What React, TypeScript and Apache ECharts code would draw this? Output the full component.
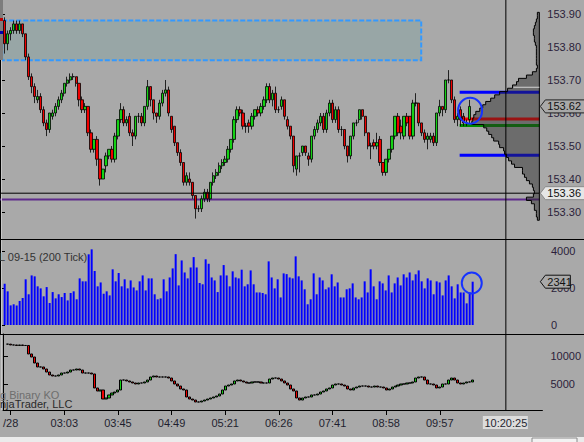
import React, { useEffect, useRef } from "react";
import * as echarts from "echarts";

// ---------- price bars (200 tick) ----------
const opens = [
  153.88, 153.81, 153.84, 153.85, 153.87, 153.85, 153.87, 153.84, 153.77, 153.71,
  153.68, 153.64, 153.65, 153.61, 153.57, 153.55, 153.59, 153.60, 153.62, 153.64,
  153.66, 153.69, 153.70, 153.71, 153.71, 153.69, 153.64, 153.61, 153.62, 153.54,
  153.49, 153.52, 153.46, 153.40, 153.44, 153.47, 153.49, 153.46, 153.53, 153.58,
  153.61, 153.57, 153.59, 153.54, 153.53, 153.59, 153.59, 153.57, 153.62, 153.68,
  153.64, 153.60, 153.59, 153.63, 153.66, 153.67, 153.59, 153.56, 153.51, 153.48,
  153.45, 153.39, 153.40, 153.39, 153.35, 153.31, 153.31, 153.34, 153.36, 153.34,
  153.39, 153.41, 153.42, 153.44, 153.45, 153.46, 153.49, 153.52, 153.58, 153.61,
  153.60, 153.56, 153.57, 153.56, 153.59, 153.61, 153.60, 153.62, 153.64, 153.68,
  153.64, 153.66, 153.61, 153.62, 153.64, 153.58, 153.56, 153.53, 153.43, 153.47,
  153.48, 153.50, 153.47, 153.46, 153.53, 153.55, 153.57, 153.59, 153.55, 153.60,
  153.63, 153.58, 153.61, 153.55, 153.55, 153.50, 153.47, 153.53, 153.57, 153.58,
  153.61, 153.59, 153.54, 153.50, 153.51, 153.50, 153.52, 153.45, 153.42, 153.46,
  153.49, 153.53, 153.59, 153.56, 153.53, 153.59, 153.59, 153.53, 153.63, 153.63,
  153.57, 153.54, 153.52, 153.52, 153.53, 153.51, 153.60, 153.62, 153.61, 153.70,
  153.70, 153.64, 153.58, 153.61, 153.59, 153.57, 153.58,
];
const closes = [
  153.81, 153.84, 153.85, 153.87, 153.85, 153.87, 153.84, 153.77, 153.71, 153.68,
  153.65, 153.65, 153.61, 153.57, 153.55, 153.60, 153.60, 153.62, 153.64, 153.66,
  153.69, 153.70, 153.71, 153.71, 153.69, 153.64, 153.61, 153.62, 153.54, 153.49,
  153.52, 153.46, 153.40, 153.43, 153.47, 153.49, 153.46, 153.53, 153.58, 153.61,
  153.57, 153.58, 153.54, 153.53, 153.59, 153.59, 153.57, 153.62, 153.68, 153.64,
  153.60, 153.59, 153.63, 153.66, 153.67, 153.60, 153.55, 153.51, 153.48, 153.45,
  153.39, 153.41, 153.39, 153.35, 153.31, 153.31, 153.34, 153.36, 153.34, 153.39,
  153.41, 153.42, 153.44, 153.45, 153.46, 153.49, 153.52, 153.58, 153.61, 153.60,
  153.56, 153.56, 153.56, 153.59, 153.61, 153.60, 153.62, 153.64, 153.68, 153.64,
  153.66, 153.61, 153.61, 153.64, 153.59, 153.56, 153.53, 153.44, 153.47, 153.47,
  153.50, 153.48, 153.46, 153.53, 153.55, 153.57, 153.59, 153.55, 153.60, 153.63,
  153.58, 153.61, 153.55, 153.55, 153.50, 153.47, 153.53, 153.57, 153.57, 153.61,
  153.59, 153.54, 153.50, 153.50, 153.50, 153.51, 153.45, 153.42, 153.46, 153.49,
  153.53, 153.59, 153.54, 153.54, 153.59, 153.57, 153.53, 153.63, 153.63, 153.57,
  153.54, 153.52, 153.53, 153.53, 153.51, 153.60, 153.62, 153.61, 153.70, 153.70,
  153.64, 153.58, 153.59, 153.58, 153.57, 153.57, 153.62,
];
const lows = [
  153.78, 153.79, 153.82, 153.84, 153.84, 153.84, 153.83, 153.76, 153.70, 153.66,
  153.63, 153.63, 153.60, 153.56, 153.53, 153.54, 153.58, 153.59, 153.61, 153.63,
  153.65, 153.68, 153.69, 153.70, 153.68, 153.62, 153.60, 153.60, 153.53, 153.48,
  153.48, 153.44, 153.38, 153.40, 153.42, 153.46, 153.45, 153.45, 153.52, 153.57,
  153.56, 153.56, 153.53, 153.50, 153.52, 153.57, 153.56, 153.56, 153.61, 153.62,
  153.58, 153.57, 153.58, 153.62, 153.65, 153.59, 153.54, 153.50, 153.47, 153.44,
  153.38, 153.38, 153.38, 153.34, 153.28, 153.30, 153.30, 153.33, 153.33, 153.33,
  153.38, 153.40, 153.41, 153.43, 153.44, 153.45, 153.48, 153.51, 153.57, 153.59,
  153.55, 153.54, 153.54, 153.55, 153.58, 153.59, 153.59, 153.61, 153.63, 153.63,
  153.62, 153.60, 153.60, 153.61, 153.58, 153.55, 153.52, 153.42, 153.41, 153.42,
  153.47, 153.47, 153.44, 153.45, 153.52, 153.54, 153.56, 153.54, 153.54, 153.59,
  153.57, 153.57, 153.54, 153.53, 153.49, 153.45, 153.46, 153.52, 153.56, 153.57,
  153.58, 153.53, 153.49, 153.46, 153.49, 153.49, 153.44, 153.41, 153.41, 153.45,
  153.48, 153.52, 153.53, 153.52, 153.52, 153.56, 153.52, 153.52, 153.62, 153.56,
  153.53, 153.51, 153.49, 153.51, 153.50, 153.50, 153.59, 153.59, 153.60, 153.69,
  153.63, 153.57, 153.56, 153.56, 153.56, 153.56, 153.57,
];
const highs = [
  153.89, 153.85, 153.86, 153.88, 153.88, 153.88, 153.87, 153.84, 153.78, 153.72,
  153.69, 153.67, 153.66, 153.62, 153.58, 153.60, 153.61, 153.63, 153.65, 153.67,
  153.69, 153.71, 153.72, 153.72, 153.71, 153.69, 153.65, 153.63, 153.62, 153.55,
  153.52, 153.53, 153.46, 153.43, 153.48, 153.49, 153.50, 153.54, 153.58, 153.63,
  153.62, 153.59, 153.60, 153.55, 153.59, 153.60, 153.60, 153.62, 153.70, 153.68,
  153.64, 153.60, 153.64, 153.67, 153.70, 153.68, 153.59, 153.56, 153.51, 153.49,
  153.45, 153.42, 153.42, 153.39, 153.35, 153.32, 153.35, 153.37, 153.37, 153.39,
  153.42, 153.43, 153.45, 153.46, 153.47, 153.50, 153.52, 153.59, 153.62, 153.62,
  153.61, 153.57, 153.58, 153.60, 153.61, 153.62, 153.63, 153.65, 153.69, 153.69,
  153.67, 153.68, 153.62, 153.65, 153.64, 153.59, 153.56, 153.53, 153.47, 153.48,
  153.50, 153.50, 153.48, 153.53, 153.56, 153.58, 153.60, 153.60, 153.61, 153.64,
  153.64, 153.62, 153.62, 153.56, 153.55, 153.50, 153.53, 153.57, 153.58, 153.61,
  153.61, 153.59, 153.54, 153.51, 153.52, 153.54, 153.53, 153.45, 153.46, 153.49,
  153.53, 153.59, 153.60, 153.58, 153.59, 153.60, 153.59, 153.64, 153.66, 153.63,
  153.57, 153.55, 153.54, 153.54, 153.54, 153.60, 153.64, 153.62, 153.70, 153.73,
  153.70, 153.65, 153.60, 153.62, 153.60, 153.58, 153.64,
];

// ---------- volume per bar ----------
const volumes = [
  2230, 1820, 1060, 1120, 1060, 1300, 1460, 2470, 1660, 2680,
  2630, 2090, 1980, 1550, 2050, 1190, 1780, 1440, 1660, 1510,
  1730, 1330, 1730, 1820, 1390, 2520, 2360, 2360, 3820, 4090,
  2920, 2090, 2300, 1690, 1820, 1600, 3010, 2360, 2810, 2090,
  2470, 1980, 2410, 2030, 1870, 2360, 2680, 1870, 2520, 2520,
  1660, 1390, 1440, 2470, 1820, 2570, 3060, 3830, 2140, 3490,
  2840, 2520, 3110, 3670, 3110, 2270, 2200, 3550, 3310, 2570,
  2410, 1780, 2680, 3240, 2680, 2090, 2900, 2570, 2520, 2990,
  2090, 2200, 2950, 2200, 1760, 1760, 1730, 1660, 3440, 2570,
  1980, 2470, 1490, 2790, 2750, 2570, 2520, 3710, 2630, 2410,
  1930, 1120, 1390, 2790, 1660, 2570, 2410, 1930, 2030, 2740,
  2090, 2300, 1490, 1490, 1930, 1980, 2250, 1490, 1390, 1490,
  2360, 1760, 3010, 2090, 1390, 2360, 2250, 1870, 2680, 1760,
  2250, 2570, 2140, 2740, 2570, 2840, 2410, 2740, 2950, 2360,
  1980, 2520, 2410, 1660, 2360, 2300, 1600, 2410, 2680, 2090,
  1440, 2200, 1760, 1760, 1170, 1760, 2341,
];

// ---------- lower indicator (closes per bar) ----------
const indicatorCloses = [
  12120, 11970, 11970, 11880, 11970, 11880, 11880, 10360, 9820, 8750,
  8040, 8040, 7680, 7140, 6610, 6430, 6430, 6610, 6960, 6960,
  7140, 7500, 7500, 7680, 7500, 6960, 6960, 6960, 6790, 4290,
  3750, 3930, 2320, 2500, 3040, 3390, 3570, 3930, 5710, 5710,
  5540, 5360, 5180, 5000, 5180, 5180, 5360, 5710, 6250, 6430,
  6250, 6250, 6250, 6250, 6070, 5540, 5000, 4640, 4110, 3930,
  2680, 2320, 2140, 1790, 1790, 1960, 2140, 2320, 2500, 2680,
  2860, 3210, 3930, 4640, 4820, 5000, 5540, 5710, 5540, 5360,
  5180, 5180, 5360, 5360, 5360, 5180, 5180, 5180, 5890, 6070,
  6070, 5890, 5540, 5180, 4820, 4110, 3750, 2500, 2140, 2500,
  2680, 2680, 3040, 3040, 3210, 3570, 3750, 4110, 4290, 4820,
  5000, 5000, 4820, 4640, 4110, 3930, 4290, 4460, 4640, 4640,
  4640, 4460, 4460, 4640, 4460, 4460, 4290, 3930, 4110, 4460,
  4640, 4820, 5000, 5000, 5180, 5180, 5360, 6070, 6250, 6250,
  5710, 5000, 5000, 4820, 4290, 4460, 5000, 5000, 5710, 6070,
  5710, 5180, 5000, 5180, 5360, 5360, 5710,
];

// ---------- volume profile ----------
const profilePrices = [
  153.90, 153.89, 153.88, 153.87, 153.86, 153.85, 153.84, 153.83, 153.82, 153.81,
  153.80, 153.79, 153.78, 153.77, 153.76, 153.75, 153.74, 153.73, 153.72, 153.71,
  153.70, 153.69, 153.68, 153.67, 153.66, 153.65, 153.64, 153.63, 153.62, 153.61,
  153.60, 153.59, 153.58, 153.57, 153.56, 153.55, 153.54, 153.53, 153.52, 153.51,
  153.50, 153.49, 153.48, 153.47, 153.46, 153.45, 153.44, 153.43, 153.42, 153.41,
  153.40, 153.39, 153.38, 153.37, 153.36, 153.35, 153.34, 153.33, 153.32, 153.31,
  153.30, 153.29, 153.28,
];
const profileVolumes = [
  2, 2, 3, 4, 5, 6, 6, 5, 5, 4,
  3, 3, 3, 3, 3, 3, 2, 3, 7, 13,
  21, 23, 27, 32, 40, 45, 49, 54, 57, 60,
  64, 66, 67, 68, 56, 53, 51, 48, 46, 41,
  40, 36, 35, 33, 31, 28, 25, 17, 17, 15,
  13, 10, 7, 6, 5, 6, 13, 8, 5, 5,
  3, 3, 2,
];

// ---------- axes ----------
const priceTicks = [153.3, 153.4, 153.5, 153.6, 153.7, 153.8, 153.9];
const volumeTicks = [0, 2000, 4000];
const indicatorTicks = [5000, 10000];
const timeLabels = ["/28", "03:03", "03:45", "04:49", "05:21", "06:26", "07:41", "08:58", "09:57"];
const timeLabelBars = [1, 19, 37, 55, 73, 91, 109, 127, 145];

// ---------- levels / annotations ----------
const zoneTop = 153.88;
const zoneBottom = 153.76;
const zoneStartBar = -0.8;
const zoneEndBar = 139.8;
const profileStartBar = 152.7;
const vaHigh = 153.663;
const vaLow = 153.472;
const pocPrice = 153.582;
const vwapPrice = 153.562;
const purplePrice = 153.338;
const lightLinePrice = 153.678;
const crossBar = 168.2;
const crossPrice = 153.357;
const crossTime = "10:20:25";
const lastPrice = 153.62;
const lastVolume = 2341;
const priceCircle = { bar: 156.2, price: 153.607 };
const volumeCircle = { bar: 155.7, volume: 2270 };

const FONT = '"Liberation Sans", Arial, sans-serif';
const BG = "#A9A9A9";
const UP = "#14D214";
const DOWN = "#F00000";
const AXIS_TEXT = "#2B1E3A";

const X_MAX = 181;
const barX = (k: number) => k + 1.556;

const PRICE_MIN = 153.2182;
const PRICE_MAX = 153.9424;
const VOL_MIN = -486.5;
const VOL_MAX = 4648.6;
const IND_MIN = 357.1;
const IND_MAX = 13928.6;
const PROFILE_MAX = 543;

export default function App() {
  const ref = useRef<HTMLDivElement>(null);

  useEffect(() => {
    const el = ref.current!;
    const chart = echarts.init(el, null, { renderer: "svg" });

    const tickVals = timeLabelBars.map(barX);
    const yAxisBase = (gridIndex: number, min: number, max: number, ticks: number[], fmt: (v: number) => string) => ({
      gridIndex,
      type: "value",
      position: "right",
      min,
      max,
      axisLine: { show: true, lineStyle: { color: "#000", width: 1 } },
      axisTick: { show: true, customValues: ticks, length: 5, lineStyle: { color: "#000" } },
      axisLabel: { customValues: ticks, formatter: fmt, color: AXIS_TEXT, fontSize: 11, fontFamily: FONT, margin: 8 },
      splitLine: { show: false },
    });

    const indOHLC = indicatorCloses.map((c, i) => {
      const o = i === 0 ? c : indicatorCloses[i - 1];
      return [barX(i), o, c, Math.min(o, c), Math.max(o, c)];
    });

    const candleStyle = {
      color: UP,
      color0: DOWN,
      borderColor: "#000",
      borderColor0: "#000",
      borderColorDoji: "#000",
      borderWidth: 0.8,
    };

    const option: any = {
      animation: false,
      backgroundColor: BG,
      textStyle: { fontFamily: FONT },
      grid: [
        { left: 0, top: 0, width: 543, height: 239 },
        { left: 0, top: 239, width: 543, height: 95 },
        { left: 0, top: 334, width: 543, height: 76 },
      ],
      xAxis: [
        { gridIndex: 0, type: "value", min: 0, max: X_MAX, show: false },
        { gridIndex: 1, type: "value", min: 0, max: X_MAX, show: false },
        {
          gridIndex: 2,
          type: "value",
          min: 0,
          max: X_MAX,
          axisLine: { show: true, onZero: false, lineStyle: { color: "#000", width: 1 } },
          axisTick: { show: true, customValues: tickVals, length: 5, lineStyle: { color: "#000" } },
          axisLabel: {
            customValues: tickVals,
            formatter: (v: number) => {
              const i = tickVals.findIndex((t) => Math.abs(t - v) < 1e-6);
              return i >= 0 ? timeLabels[i] : "";
            },
            color: "#1f1f2f",
            fontSize: 11,
            fontFamily: FONT,
            margin: 7,
          },
          splitLine: { show: false },
        },
        { gridIndex: 0, type: "value", min: 0, max: PROFILE_MAX, inverse: true, show: false },
      ],
      yAxis: [
        yAxisBase(0, PRICE_MIN, PRICE_MAX, priceTicks, (v) => v.toFixed(2)),
        yAxisBase(1, VOL_MIN, VOL_MAX, volumeTicks, (v) => String(Math.round(v))),
        yAxisBase(2, IND_MIN, IND_MAX, indicatorTicks, (v) => String(Math.round(v))),
      ],
      series: [
        {
          type: "custom",
          xAxisIndex: 0,
          yAxisIndex: 0,
          z: 1,
          silent: true,
          data: [[0, PRICE_MIN]],
          renderItem: (_params: any, api: any) => {
            const p0 = api.coord([barX(zoneStartBar), zoneTop]);
            const p1 = api.coord([barX(zoneEndBar), zoneBottom]);
            const left = api.coord([0, PRICE_MAX])[0];
            const right = api.coord([X_MAX, PRICE_MAX])[0];
            const vaX = api.coord([barX(profileStartBar), PRICE_MAX])[0];
            const hline = (price: number, x0: number, color: string, w: number) => {
              const y = api.coord([0, price])[1];
              return { type: "line", shape: { x1: x0, y1: y, x2: right, y2: y }, style: { stroke: color, lineWidth: w } };
            };
            return {
              type: "group",
              children: [
                {
                  type: "rect",
                  shape: { x: p0[0], y: p0[1], width: p1[0] - p0[0], height: p1[1] - p0[1] },
                  style: { fill: "#98A6A6", stroke: "#3399FF", lineWidth: 2, lineDash: [5, 2] },
                },
                hline(purplePrice, left, "#5E2B8C", 2),
                hline(vaHigh, vaX, "#0000FF", 3),
                hline(vaLow, vaX, "#0000FF", 3),
                hline(pocPrice, vaX, "#FF0000", 3),
                hline(vwapPrice, vaX, "#008C00", 3),
              ],
            };
          },
        },
        {
          type: "custom",
          xAxisIndex: 3,
          yAxisIndex: 0,
          z: 2,
          silent: true,
          data: profileVolumes.map((v, i) => [v, profilePrices[i]]),
          renderItem: (params: any, api: any) => {
            if (params.dataIndex !== 0) return null;
            const half = 0.005;
            const pts: number[][] = [];
            pts.push(api.coord([0, profilePrices[0] + half]));
            profilePrices.forEach((p, i) => {
              pts.push(api.coord([profileVolumes[i], p + half]));
              pts.push(api.coord([profileVolumes[i], p - half]));
            });
            pts.push(api.coord([0, profilePrices[profilePrices.length - 1] - half]));
            return {
              type: "polygon",
              shape: { points: pts },
              style: { fill: "rgba(40,40,40,0.47)", stroke: "#000", lineWidth: 1 },
            };
          },
        },
        {
          type: "candlestick",
          xAxisIndex: 0,
          yAxisIndex: 0,
          z: 3,
          barWidth: 2.8,
          encode: { x: 0, y: [1, 2, 3, 4] },
          data: opens.map((o, i) => [barX(i), o, closes[i], lows[i], highs[i]]),
          itemStyle: candleStyle,
        },
        {
          type: "bar",
          xAxisIndex: 1,
          yAxisIndex: 1,
          z: 3,
          barWidth: 2,
          data: volumes.map((v, i) => [barX(i), v]),
          itemStyle: { color: "#0000FF" },
        },
        {
          type: "candlestick",
          xAxisIndex: 2,
          yAxisIndex: 2,
          z: 3,
          barWidth: 2.6,
          encode: { x: 0, y: [1, 2, 3, 4] },
          data: indOHLC,
          itemStyle: { ...candleStyle, borderWidth: 1 },
        },
      ],
    };

    chart.setOption(option);

    const P = (xi: number, yi: number, pt: number[]) =>
      chart.convertToPixel({ xAxisIndex: xi, yAxisIndex: yi } as any, pt) as unknown as number[];
    const right = P(0, 0, [X_MAX, PRICE_MAX])[0];
    const [crossX, crossY] = P(0, 0, [barX(crossBar), crossPrice]);
    const bottom = P(2, 2, [0, IND_MIN])[1];
    const lastY = P(0, 0, [0, lastPrice])[1];
    const volY = P(1, 1, [0, lastVolume])[1];
    const c1 = P(0, 0, [barX(priceCircle.bar), priceCircle.price]);
    const c2 = P(1, 1, [barX(volumeCircle.bar), volumeCircle.volume]);
    const lightY = P(0, 0, [0, lightLinePrice])[1];

    const txt = (x: number, y: number, text: string, fill: string, z: number, align = "left") => ({
      type: "text",
      z,
      x,
      y,
      silent: true,
      style: {
        text,
        fill,
        fontSize: 11,
        fontFamily: FONT,
        align,
        verticalAlign: "middle",
        textAlign: align,
        textVerticalAlign: "middle",
      },
    });
    const arrowBox = (y: number, label: string, fill: string, stroke: string, w: number) => [
      {
        type: "polygon",
        z: 110,
        silent: true,
        shape: {
          points: [
            [right + 1, y],
            [right + 6, y - 6.5],
            [right + 6 + w, y - 6.5],
            [right + 6 + w, y + 6.5],
            [right + 6, y + 6.5],
          ],
        },
        style: { fill, stroke, lineWidth: 1 },
      },
      txt(right + 8, y, label, "#111", 111),
    ];

    const g: any[] = [
      { type: "rect", z: 1, silent: true, shape: { x: 0, y: 0, width: 3, height: 60 }, style: { fill: "#7d7d7d" } },
      { type: "rect", z: 1, silent: true, shape: { x: 0, y: 18, width: 3, height: 3 }, style: { fill: "#c00000" } },
      { type: "rect", z: 1, silent: true, shape: { x: 0, y: 31, width: 3, height: 3 }, style: { fill: "#0000b0" } },
      { type: "line", z: 1, silent: true, shape: { x1: 1.5, y1: 60, x2: 1.5, y2: bottom }, style: { stroke: "#c8c8c8", lineWidth: 1 } },
      txt(-1, 257, "L 09-15 (200 Tick)", "#333333", 1),
      txt(0, 395, "g Binary KO", "#6e6e6e", 1),
      txt(0, 404, "njaTrader, LLC", "#2a2a2a", 1),
      { type: "line", z: 100, silent: true, shape: { x1: right - 26, y1: lightY, x2: right, y2: lightY }, style: { stroke: "#d4d4d4", lineWidth: 1 } },
      { type: "line", z: 100, silent: true, shape: { x1: 0, y1: 239.5, x2: 584, y2: 239.5 }, style: { stroke: "#000", lineWidth: 1 } },
      { type: "line", z: 100, silent: true, shape: { x1: 0, y1: 334.5, x2: 584, y2: 334.5 }, style: { stroke: "#000", lineWidth: 1 } },
      { type: "line", z: 100, silent: true, shape: { x1: crossX, y1: 0, x2: crossX, y2: bottom }, style: { stroke: "#000", lineWidth: 1 } },
      { type: "line", z: 100, silent: true, shape: { x1: 0, y1: crossY, x2: right, y2: crossY }, style: { stroke: "#000", lineWidth: 1 } },
      ...arrowBox(lastY, lastPrice.toFixed(2), BG, "#222", 50),
      ...arrowBox(crossY, crossPrice.toFixed(2), "#E6E6E6", "#8a8a8a", 50),
      ...arrowBox(volY, String(lastVolume), BG, "#111", 25),
      { type: "rect", z: 110, silent: true, shape: { x: crossX - 23, y: 416, width: 45, height: 13 }, style: { fill: "#DCDCDC" } },
      txt(crossX, 422.5, crossTime, "#1f1f2f", 111, "center"),
      { type: "rect", z: 110, silent: true, shape: { x: 0, y: 437, width: 584, height: 5 }, style: { fill: "#EBEBEB" } },
      { type: "rect", z: 111, silent: true, shape: { x: 532, y: 438, width: 45, height: 6 }, style: { fill: "#F2F2F2", stroke: "#8a8a8a", lineWidth: 1 } },
      { type: "ellipse", z: 120, silent: true, shape: { cx: c1[0], cy: c1[1], rx: 12, ry: 13 }, style: { fill: "none", stroke: "#1633FF", lineWidth: 2 } },
      { type: "ellipse", z: 120, silent: true, shape: { cx: c2[0], cy: c2[1], rx: 10, ry: 10.5 }, style: { fill: "none", stroke: "#1633FF", lineWidth: 2 } },
    ];
    chart.setOption({ graphic: g });

    return () => chart.dispose();
  }, []);

  return (
    <div
      ref={ref}
      style={{ position: "absolute", left: 0, top: 0, width: 584, height: 442, background: BG }}
    />
  );
}
